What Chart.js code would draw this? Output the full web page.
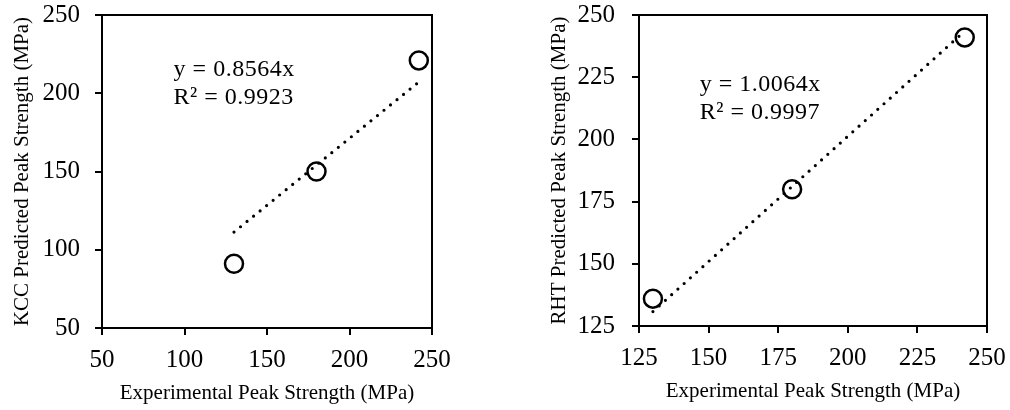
<!DOCTYPE html>
<html>
<head>
<meta charset="utf-8">
<script src="https://cdn.jsdelivr.net/npm/chart.js@4/dist/chart.umd.min.js"></script>
<style>
  html, body { margin: 0; padding: 0; background: #fff; }
  #wrap { position: relative; width: 1010px; height: 410px; }
  .box { position: absolute; top: 0; height: 410px; }
</style>
</head>
<body>
<div id="wrap">
  <div class="box" style="left:0;width:460px"><canvas id="kccChart"></canvas></div>
  <div class="box" style="left:500px;width:510px"><canvas id="rhtChart"></canvas></div>
</div>
<script>
Chart.defaults.font.family = '"Liberation Serif", "Times New Roman", serif';
Chart.defaults.color = '#000';
Chart.defaults.animation = false;

// KCC model
const kcc_exp = [130, 180, 242];
const kcc_pred = [91, 150, 221];
const kcc_trend_x = [130, 242];
const kcc_trend_y = [111.3, 207.2];
const kcc_eq = ['y = 0.8564x', 'R² = 0.9923'];

// RHT model
const rht_exp = [130, 180, 242];
const rht_pred = [136, 180, 241];
const rht_trend_x = [130, 241.5];
const rht_trend_y = [130.8, 243.0];
const rht_eq = ['y = 1.0064x', 'R² = 0.9997'];

// frame around the plot area
const framePlugin = {
  id: 'frame',
  afterDraw(chart) {
    const a = chart.chartArea, ctx = chart.ctx;
    ctx.save();
    ctx.strokeStyle = '#000';
    ctx.lineWidth = 2;
    ctx.strokeRect(a.left, a.top, a.right - a.left, a.bottom - a.top);
    ctx.restore();
  }
};

// trendline equation text
const eqPlugin = {
  id: 'eqLabel',
  afterDatasetsDraw(chart, args, opts) {
    const ctx = chart.ctx;
    const px = chart.scales.x.getPixelForValue(opts.x);
    const py = chart.scales.y.getPixelForValue(opts.y);
    ctx.save();
    ctx.fillStyle = '#000';
    ctx.font = '24px "Liberation Serif", serif';
    ctx.letterSpacing = '0.5px';
    ctx.textBaseline = 'alphabetic';
    opts.lines.forEach((t, i) => ctx.fillText(t, px, py + i * 28));
    ctx.restore();
  }
};

function toPts(xs, ys) {
  return xs.map((x, i) => ({x: x, y: ys[i]}));
}

function makeChart(id, cfg) {
  return new Chart(document.getElementById(id), {
    type: 'scatter',
    data: {
      datasets: [{
        label: 'data',
        data: toPts(cfg.xs, cfg.ys),
        pointRadius: 9,
        pointBorderWidth: 2.5,
        pointBorderColor: '#000',
        pointBackgroundColor: 'rgba(0,0,0,0)',
        showLine: false
      }, {
        label: 'trend',
        type: 'line',
        data: toPts(cfg.tx, cfg.ty),
        borderColor: '#000',
        borderWidth: 3.2,
        borderDash: [0, 8.4],
        borderCapStyle: 'round',
        pointRadius: 0,
        fill: false
      }]
    },
    options: {
      responsive: true,
      maintainAspectRatio: false,
      layout: { padding: { top: 15, right: cfg.padRight, left: 0, bottom: 0 } },
      plugins: {
        legend: { display: false },
        tooltip: { enabled: false },
        eqLabel: { lines: cfg.eq, x: cfg.eqX, y: cfg.eqY }
      },
      scales: {
        x: {
          type: 'linear',
          min: cfg.min, max: 250,
          afterFit: (s) => {
            s.height = cfg.xHeight;
            s.paddingLeft = 0;
            s.paddingRight = 0;
          },
          ticks: { stepSize: cfg.step, font: { size: 25 }, padding: 10, maxRotation: 0 },
          grid: { drawOnChartArea: false, tickLength: 7, color: '#000', lineWidth: 2 },
          border: { color: '#000', width: 2 },
          title: {
            display: true,
            text: 'Experimental Peak Strength (MPa)',
            font: { size: 21 },
            padding: { top: 0, bottom: cfg.xTitlePad }
          }
        },
        y: {
          min: cfg.min, max: 250,
          afterFit: (s) => {
            s.width = cfg.yWidth;
            s.paddingTop = 0;
            s.paddingBottom = 0;
          },
          ticks: { stepSize: cfg.step, font: { size: 25 }, padding: cfg.yTickPad },
          grid: { drawOnChartArea: false, tickLength: 7, color: '#000', lineWidth: 2 },
          border: { color: '#000', width: 2 },
          title: {
            display: true,
            text: cfg.yTitle,
            font: { size: 21 },
            padding: { top: cfg.yTitlePad, bottom: 0 }
          }
        }
      }
    },
    plugins: [framePlugin, eqPlugin]
  });
}

makeChart('kccChart', {
  xs: kcc_exp, ys: kcc_pred, tx: kcc_trend_x, ty: kcc_trend_y,
  eq: kcc_eq, eqX: 93.4, eqY: 211.2,
  min: 50, step: 50, padRight: 28, xHeight: 82, yWidth: 102,
  xTitlePad: 4, yTickPad: 15, yTitlePad: 10,
  yTitle: 'KCC Predicted Peak Strength (MPa)'
});

makeChart('rhtChart', {
  xs: rht_exp, ys: rht_pred, tx: rht_trend_x, ty: rht_trend_y,
  eq: rht_eq, eqX: 146.8, eqY: 219.4,
  min: 125, step: 25, padRight: 23, xHeight: 84, yWidth: 139,
  xTitlePad: 6, yTickPad: 17, yTitlePad: 47,
  yTitle: 'RHT Predicted Peak Strength (MPa)'
});
</script>
</body>
</html>
